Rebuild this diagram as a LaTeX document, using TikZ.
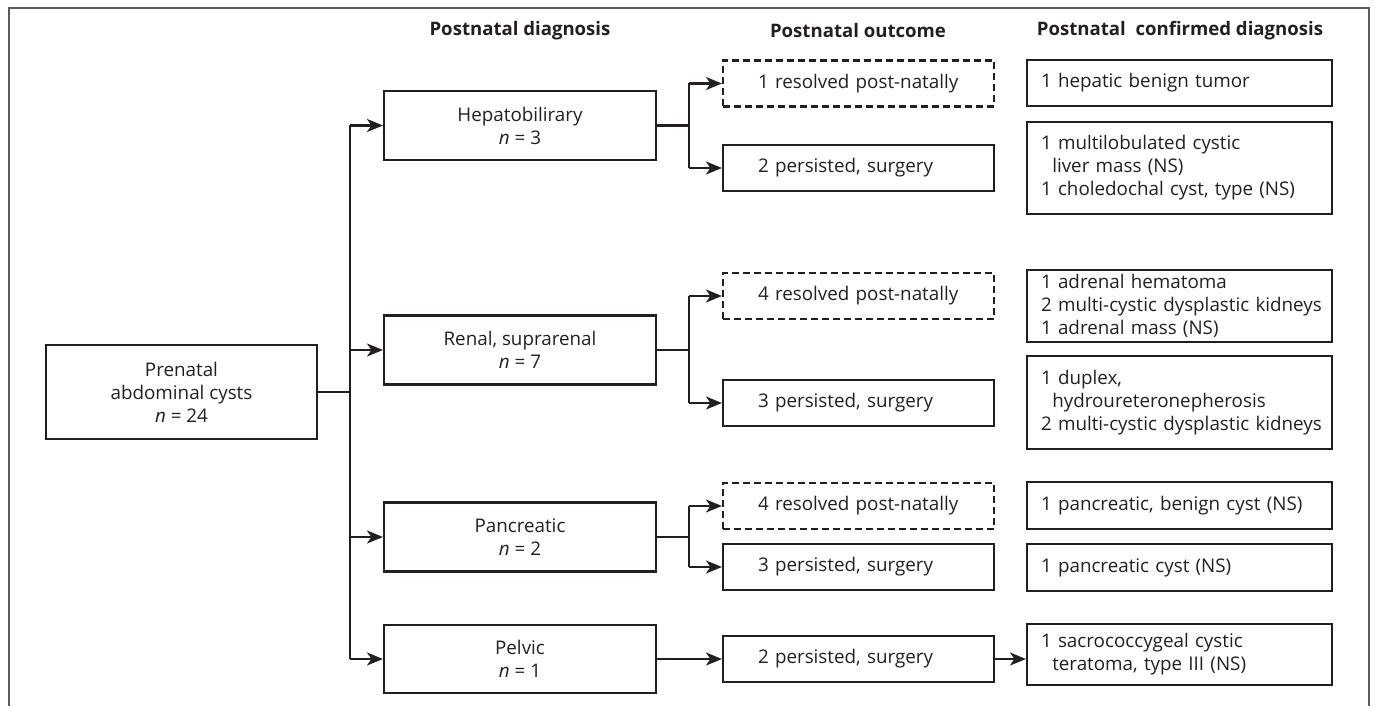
\documentclass[tikz,border=0pt]{standalone}
\usepackage{fontspec}
\setmainfont{Open Sans}
\usetikzlibrary{arrows.meta}
\definecolor{ink}{RGB}{35,31,32}
\definecolor{frame}{RGB}{90,90,90}
\tikzset{
  base/.style={draw=ink, line width=2.1pt, text=ink, font=\fontsize{18.8}{23}\selectfont, inner sep=0pt},
  dbox/.style={base, minimum width=272pt, align=center},
  prebox/.style={base, minimum width=271pt, minimum height=94pt, align=center},
  obox/.style={base, minimum width=271pt, minimum height=46pt, text width=201pt, inner xsep=35pt, align=left},
  dashbox/.style={obox, dash pattern=on 7pt off 4pt},
  cbox/.style={base, minimum width=305pt, text width=277pt, inner xsep=14pt, align=left},
  hdr/.style={text=ink, font=\bfseries\fontsize{18.6}{22}\selectfont, inner sep=0pt},
  conn/.style={draw=ink, line width=2.1pt},
  arr/.style={conn, -{Stealth[length=16pt, width=13pt, inset=4.5pt]}},
}
\newcommand{\ind}{\hspace*{0.6em}}
\newcommand{\oneline}[1]{\mbox{#1}}
\begin{document}
\begin{tikzpicture}[x=1pt, y=-1pt]
\useasboundingbox (0,0) rectangle (1375,706);
\draw[frame, line width=1.8pt] (9,706) -- (9,8) -- (1369,8) -- (1369,706);

% headers
\node[hdr] (h1) at (520,31) {Postnatal diagnosis};
\node[hdr] (h2) at (858,31) {Postnatal outcome};
\node[hdr] (h3) at (1180,31) {Postnatal\ \ confirmed diagnosis};

% prenatal
\node[prebox] (pre) at (181.5,392) {Prenatal\\abdominal cysts\\\textit{n} = 24};

% diagnosis
\node[dbox, minimum height=69pt] (d1) at (520,125.5) {Hepatobilirary\\\textit{n} = 3};
\node[dbox, minimum height=69pt] (d2) at (520,350) {Renal, suprarenal\\\textit{n} = 7};
\node[dbox, minimum height=69pt] (d3) at (520,537) {Pancreatic\\\textit{n} = 2};
\node[dbox, minimum height=68pt] (d4) at (520,659) {Pelvic\\\textit{n} = 1};

% outcomes
\node[dashbox] (o1a) at (858.5,83.5) {1 resolved post-natally};
\node[obox]    (o1b) at (858.5,168) {2 persisted, surgery};
\node[dashbox] (o2a) at (858.5,296) {4 resolved post-natally};
\node[obox]    (o2b) at (858.5,403) {3 persisted, surgery};
\node[dashbox] (o3a) at (858.5,506) {4 resolved post-natally};
\node[obox]    (o3b) at (858.5,567) {3 persisted, surgery};
\node[obox]    (o4)  at (858.5,659) {2 persisted, surgery};

% confirmed
\node[cbox, minimum height=46pt] (c1) at (1179.5,83) {1 hepatic benign tumor};
\node[cbox, minimum height=92pt] (c2) at (1179.5,168) {1 multilobulated cystic\\\ind liver mass (NS)\\\oneline{1 choledochal cyst, type (NS)}};
\node[cbox, minimum height=72pt] (c3) at (1179.5,306) {1 adrenal hematoma\\\oneline{2 multi-cystic dysplastic kidneys}\\1 adrenal mass (NS)};
\node[cbox, minimum height=93pt] (c4) at (1179.5,402.5) {1 duplex,\\\ind hydroureteronepherosis\\\oneline{2 multi-cystic dysplastic kidneys}};
\node[cbox, minimum height=47pt] (c5) at (1179.5,505.5) {\oneline{1 pancreatic, benign cyst (NS)}};
\node[cbox, minimum height=47pt] (c6) at (1179.5,567.5) {1 pancreatic cyst (NS)};
\node[cbox, minimum height=61pt] (c7) at (1179.5,654.5) {1 sacrococcygeal cystic\\\ind teratoma, type III (NS)};

% connectors
\coordinate (sp) at (350,392);
\draw[conn] (pre.east) -- (sp);
\draw[conn] (sp |- d1.west) -- (sp |- d4.west);
\foreach \d in {d1,d2,d3,d4} \draw[arr] (sp |- \d.west) -- (\d.west);

\coordinate (br) at (689,0);
\foreach \d/\a/\b in {d1/o1a/o1b, d2/o2a/o2b, d3/o3a/o3b} {
  \draw[conn] (\d.east) -- (br |- \d.east);
  \draw[conn] (br |- \a.west) -- (br |- \b.west);
  \draw[arr] (br |- \a.west) -- (\a.west);
  \draw[arr] (br |- \b.west) -- (\b.west);
}
\draw[arr] (d4.east) -- (o4.west);
\draw[arr] (o4.east) -- (o4.east -| c7.west);
\end{tikzpicture}
\end{document}
